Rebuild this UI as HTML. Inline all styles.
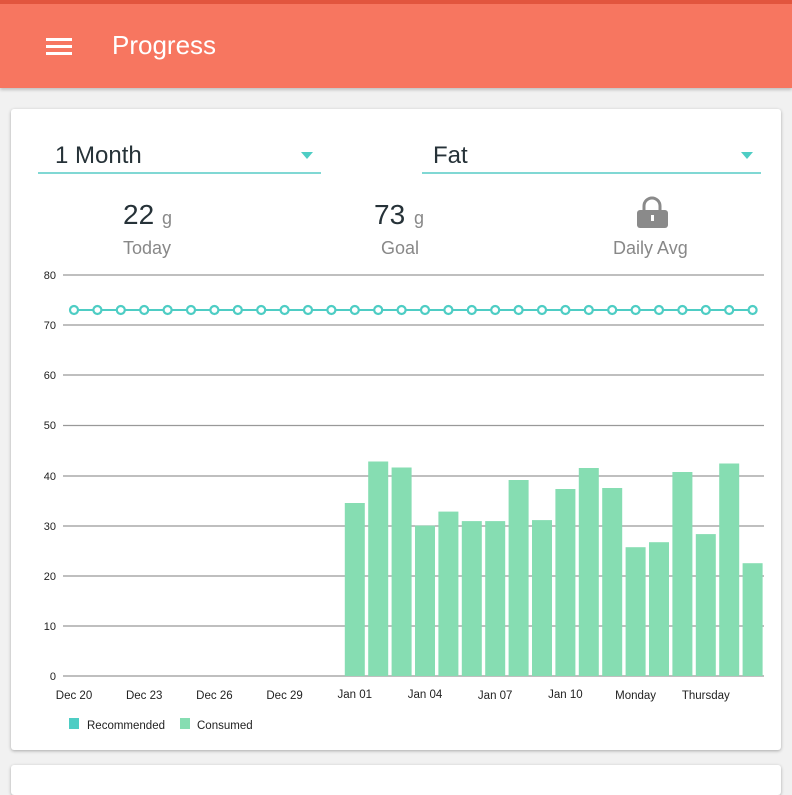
<!DOCTYPE html>
<html><head><style>
body{margin:0;width:792px;height:779px;background:#f1f1f1;overflow:hidden;font-family:"Liberation Sans",sans-serif;position:relative}
.hdr{position:absolute;left:0;top:0;width:792px;height:88px;background:#f77660;box-shadow:0 2px 3px rgba(0,0,0,.2)}
.strip{position:absolute;left:0;top:0;width:792px;height:4px;background:#e2553e}
.card{position:absolute;left:11px;top:109px;width:770px;height:641px;background:#fff;border-radius:3px;box-shadow:0 1px 3px rgba(0,0,0,.3)}
.card2{position:absolute;left:11px;top:765px;width:770px;height:30px;background:#fff;border-radius:3px;box-shadow:0 1px 3px rgba(0,0,0,.3)}
</style></head><body>
<div class="hdr"><div class="strip"></div>
<div style="position:absolute;left:46px;top:38px;width:26px;height:3px;background:#fff;box-shadow:0 7px 0 #fff,0 14px 0 #fff"></div>
<div style="position:absolute;left:112px;top:30px;color:#fff;font-size:26px;font-family:'Liberation Sans',sans-serif">Progress</div>
</div>
<div class="card"></div>
<div class="card2"></div>
<svg width="792" height="779" style="position:absolute;left:0;top:0" font-family="Liberation Sans, sans-serif">
<text x="55" y="163" font-size="24" fill="#263238">1 Month</text>
<polygon points="301,152 313,152 307,159" fill="#4ecdc4"/>
<rect x="38" y="172" width="283" height="2" fill="#80d8d4"/>
<text x="433" y="163" font-size="24" fill="#263238">Fat</text>
<polygon points="741,152 753,152 747,159" fill="#4ecdc4"/>
<rect x="422" y="172" width="339" height="2" fill="#80d8d4"/>
<text x="123" y="224" font-size="28" fill="#263238">22</text><text x="162" y="224" font-size="18" fill="#888">g</text>
<text x="123" y="254" font-size="18" fill="#888">Today</text>
<text x="374" y="224" font-size="28" fill="#263238">73</text><text x="414" y="224" font-size="18" fill="#888">g</text>
<text x="381" y="254" font-size="18" fill="#888">Goal</text>
<path d="M644,211 v-5 a8,8 0 0 1 16,0 v5" stroke="#8a8a8a" stroke-width="3" fill="none"/>
<rect x="637" y="210" width="31" height="18" rx="3" fill="#8a8a8a"/>
<rect x="651" y="215" width="3" height="6" fill="#fff"/>
<text x="613" y="254" font-size="18" fill="#888">Daily Avg</text>
<g stroke="#999" stroke-width="1.2">
<line x1="63" x2="764" y1="275" y2="275"/><line x1="63" x2="764" y1="325" y2="325"/><line x1="63" x2="764" y1="375" y2="375"/><line x1="63" x2="764" y1="425.5" y2="425.5"/><line x1="63" x2="764" y1="476" y2="476"/><line x1="63" x2="764" y1="526" y2="526"/><line x1="63" x2="764" y1="576" y2="576"/><line x1="63" x2="764" y1="626" y2="626"/><line x1="63" x2="764" y1="676" y2="676"/>
</g>
<g font-size="11" fill="#222" text-anchor="end">
<text x="56" y="279">80</text><text x="56" y="329">70</text><text x="56" y="379">60</text><text x="56" y="429">50</text><text x="56" y="480">40</text><text x="56" y="530">30</text><text x="56" y="580">20</text><text x="56" y="630">10</text><text x="56" y="680">0</text>
</g>
<g fill="#86ddb2">
<rect x="344.8" y="503" width="20" height="173"/>
<rect x="368.2" y="461.5" width="20" height="214.5"/>
<rect x="391.6" y="467.5" width="20" height="208.5"/>
<rect x="415" y="525.6" width="20" height="150.4"/>
<rect x="438.4" y="511.6" width="20" height="164.4"/>
<rect x="461.8" y="521.1" width="20" height="154.9"/>
<rect x="485.2" y="521.1" width="20" height="154.9"/>
<rect x="508.6" y="480" width="20" height="196"/>
<rect x="532" y="520.1" width="20" height="155.9"/>
<rect x="555.4" y="489" width="20" height="187"/>
<rect x="578.8" y="468" width="20" height="208"/>
<rect x="602.2" y="488" width="20" height="188"/>
<rect x="625.6" y="547.2" width="20" height="128.8"/>
<rect x="649" y="542.2" width="20" height="133.8"/>
<rect x="672.4" y="472" width="20" height="204"/>
<rect x="695.8" y="534.1" width="20" height="141.9"/>
<rect x="719.2" y="463.5" width="20" height="212.5"/>
<rect x="742.6" y="563.2" width="20" height="112.8"/>
</g>
<line x1="74" x2="752.6" y1="310" y2="310" stroke="#4ecdc4" stroke-width="2"/>
<g fill="#fff" stroke="#4ecdc4" stroke-width="2.2">
<circle cx="74" cy="310" r="4"/><circle cx="97.4" cy="310" r="4"/><circle cx="120.8" cy="310" r="4"/><circle cx="144.2" cy="310" r="4"/><circle cx="167.6" cy="310" r="4"/><circle cx="191" cy="310" r="4"/><circle cx="214.4" cy="310" r="4"/><circle cx="237.8" cy="310" r="4"/><circle cx="261.2" cy="310" r="4"/><circle cx="284.6" cy="310" r="4"/><circle cx="308" cy="310" r="4"/><circle cx="331.4" cy="310" r="4"/><circle cx="354.8" cy="310" r="4"/><circle cx="378.2" cy="310" r="4"/><circle cx="401.6" cy="310" r="4"/><circle cx="425" cy="310" r="4"/><circle cx="448.4" cy="310" r="4"/><circle cx="471.8" cy="310" r="4"/><circle cx="495.2" cy="310" r="4"/><circle cx="518.6" cy="310" r="4"/><circle cx="542" cy="310" r="4"/><circle cx="565.4" cy="310" r="4"/><circle cx="588.8" cy="310" r="4"/><circle cx="612.2" cy="310" r="4"/><circle cx="635.6" cy="310" r="4"/><circle cx="659" cy="310" r="4"/><circle cx="682.4" cy="310" r="4"/><circle cx="705.8" cy="310" r="4"/><circle cx="729.2" cy="310" r="4"/><circle cx="752.6" cy="310" r="4"/>
</g>
<g font-size="11.5" fill="#222" text-anchor="middle">
<text x="74" y="699">Dec 20</text><text x="144.2" y="699">Dec 23</text><text x="214.4" y="699">Dec 26</text><text x="284.6" y="699">Dec 29</text><text x="354.8" y="698">Jan 01</text><text x="425" y="698">Jan 04</text><text x="495.2" y="699">Jan 07</text><text x="565.4" y="698">Jan 10</text><text x="635.6" y="699">Monday</text><text x="705.8" y="699">Thursday</text>
</g>
<rect x="69" y="718" width="10" height="11" fill="#4ecdc4"/>
<text x="87" y="729" font-size="11.5" fill="#222">Recommended</text>
<rect x="180" y="718" width="10" height="11" fill="#86ddb2"/>
<text x="197" y="729" font-size="11.5" fill="#222">Consumed</text>
</svg>
</body></html>
